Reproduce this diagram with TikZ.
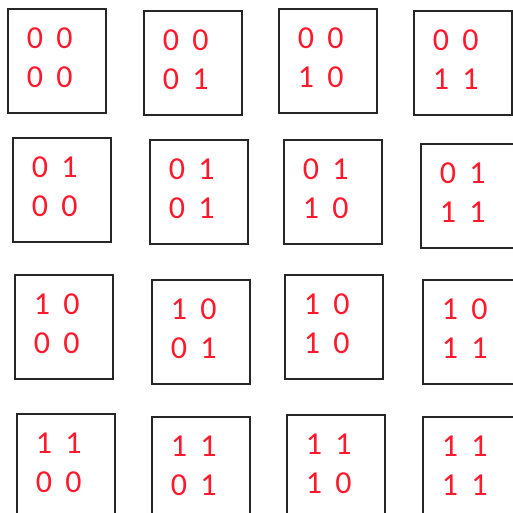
\documentclass[tikz,border=0pt]{standalone}
\usepackage{fontspec}
\setmainfont{Carlito}
\definecolor{bitred}{RGB}{255,25,45}
\tikzset{
  cellbox/.style={draw=black!85, line width=1.6pt, minimum width=98pt,
    minimum height=104pt, inner sep=0pt, anchor=north west},
  bit/.style={text=bitred, font=\fontsize{32}{32}\selectfont, inner sep=0pt}
}
\begin{document}
\begin{tikzpicture}[x=1pt,y=-1pt]
\useasboundingbox (0,0) rectangle (513,513);
\clip (0,0) rectangle (513,513);
% one row of boxes per top pattern, one column per bottom pattern
\foreach \r/\row in {0/{7/8,143/10,278/8,413/10},
                     1/{12/137,149/139,283/139,420/143},
                     2/{14/274,151/279,284/274,422/279},
                     3/{16/413,151/416,286/414,422/416}}{
  \foreach \bx/\by [count=\c from 0] in \row {
    \pgfmathtruncatemacro{\ta}{int(\r/2)}
    \pgfmathtruncatemacro{\tb}{mod(\r,2)}
    \pgfmathtruncatemacro{\ba}{int(\c/2)}
    \pgfmathtruncatemacro{\bb}{mod(\c,2)}
    \node[cellbox] (box-\r-\c) at (\bx,\by) {};
    \node[bit] (ta-\r-\c) at ([xshift=28pt,yshift=-30pt]box-\r-\c.north west) {\ta};
    \node[bit] (tb-\r-\c) at ([xshift=57.5pt,yshift=-30pt]box-\r-\c.north west) {\tb};
    \node[bit] (ba-\r-\c) at ([xshift=28pt,yshift=-69pt]box-\r-\c.north west) {\ba};
    \node[bit] (bb-\r-\c) at ([xshift=57.5pt,yshift=-69pt]box-\r-\c.north west) {\bb};
  }
}
\end{tikzpicture}
\end{document}
